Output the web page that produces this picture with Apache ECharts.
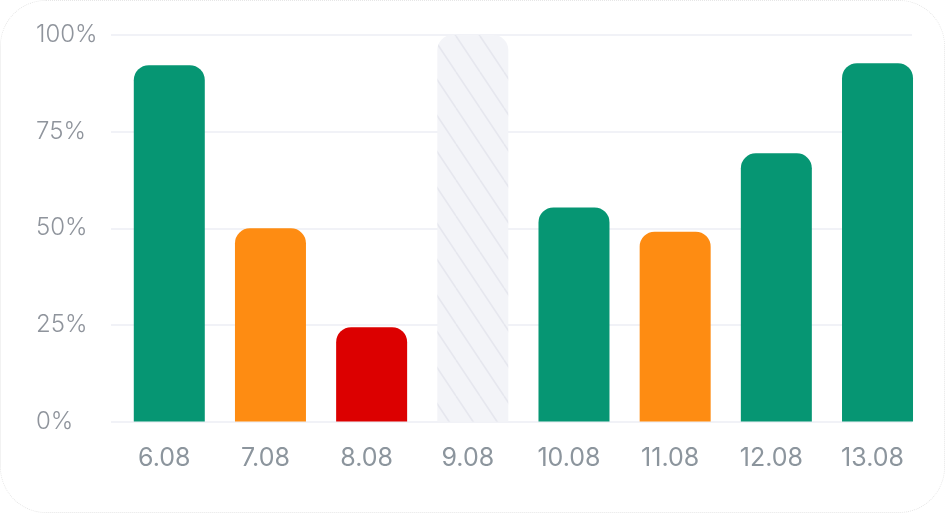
<!DOCTYPE html>
<html>
<head>
<meta charset="utf-8">
<script src="https://cdn.jsdelivr.net/npm/echarts@6/dist/echarts.min.js"></script>
<style>
  html, body { margin: 0; padding: 0; background: #fff; }
  #card {
    position: absolute; left: 0; top: 0;
    width: 943px; height: 511px;
    border: 1px dotted #e6e6e6; border-radius: 46px;
  }
  #main { position: absolute; left: 0; top: 0; width: 945px; height: 513px; }
</style>
</head>
<body>
<div id="card"></div>
<div id="main"></div>
<script>
// daily completion, null = no data for that day
var days = ["6.08", "7.08", "8.08", "9.08", "10.08", "11.08", "12.08", "13.08"];
var values = [92.2, 50, 24.4, null, 55.4, 49.1, 69.4, 92.7];
var dayStatus = ["good", "warn", "bad", "none", "good", "warn", "good", "good"];
var yTicks = [0, 25, 50, 75, 100];

var statusColors = {
  good: "#069673",
  warn: "#fe8c12",
  bad: "#dc0000"
};

// hatched fill for days without data
var makeHatch = function() {
  var w = 24, h = 36;
  var c = document.createElement("canvas");
  c.width = w;
  c.height = h;
  var ctx = c.getContext("2d");
  ctx.fillStyle = "#f3f4f8";
  ctx.fillRect(0, 0, w, h);
  ctx.strokeStyle = "#e6e7ee";
  ctx.lineWidth = 1.6;
  [-w, 0, w].forEach(function(dx) {
    ctx.beginPath();
    ctx.moveTo(dx, 0);
    ctx.lineTo(dx + w, h);
    ctx.stroke();
  });
  return c;
};
var hatch = makeHatch();
var yMax = yTicks[yTicks.length - 1];

var barData = values.map(function(v, i) {
  if (v === null) {
    return {
      value: yMax,
      itemStyle: { color: { image: hatch, repeat: "repeat" } }
    };
  }
  return { value: v, itemStyle: { color: statusColors[dayStatus[i]] } };
});

var myChart = echarts.init(document.getElementById("main"));
var option = {
  animation: false,
  grid: [
    { left: 111, right: 33, top: 35, bottom: 91.5 },
    { left: 118.7, right: 16.9, top: 35, bottom: 91.5 }
  ],
  xAxis: [
    { type: "category", gridIndex: 0, data: days, show: false },
    {
      type: "category",
      gridIndex: 1,
      data: days,
      axisLine: { show: false },
      axisTick: { show: false },
      axisLabel: {
        color: "#8c959d",
        fontFamily: "Inter",
        fontSize: 25,
        margin: 24,
        padding: [0, 10, 0, 0]
      }
    }
  ],
  yAxis: [
    {
      type: "value",
      gridIndex: 0,
      min: 0,
      max: yMax,
      interval: 25,
      axisLine: { show: false },
      axisTick: { show: false },
      splitLine: { lineStyle: { color: "#f1f2f7", width: 2 } },
      axisLabel: {
        color: "#8f949c",
        fontFamily: "Inter",
        fontWeight: 300,
        fontSize: 24,
        align: "left",
        margin: 75,
        formatter: "{value}%"
      }
    },
    { type: "value", gridIndex: 1, min: 0, max: yMax, show: false }
  ],
  series: [
    {
      type: "bar",
      xAxisIndex: 1,
      yAxisIndex: 1,
      barWidth: 71,
      itemStyle: { borderRadius: [15, 15, 0, 0] },
      data: barData
    }
  ]
};
myChart.setOption(option);
</script>
</body>
</html>
